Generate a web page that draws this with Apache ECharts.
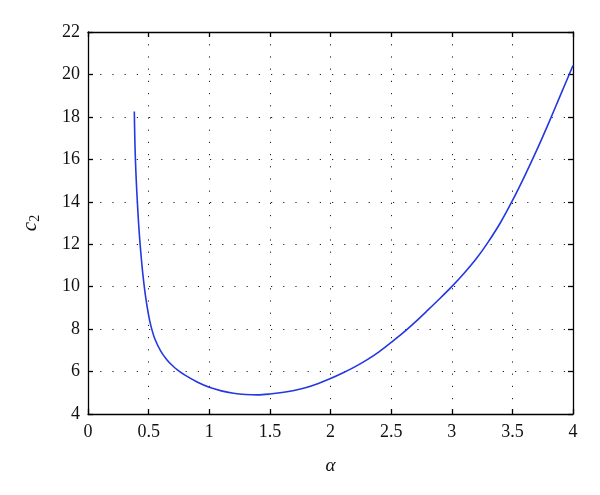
<!DOCTYPE html>
<html>
<head>
<meta charset="utf-8">
<script src="https://cdn.jsdelivr.net/npm/echarts@6/dist/echarts.min.js"></script>
<style>html,body{margin:0;padding:0;background:#fff}#c{width:600px;height:495px}</style>
</head>
<body>
<div id="c"></div>
<script>
var alphaValues = [0.382, 0.386, 0.391, 0.398, 0.407, 0.417, 0.429, 0.441, 0.455, 0.475, 0.5, 0.522, 0.55, 0.6, 0.65, 0.7, 0.74, 0.8, 0.9, 1.0, 1.1, 1.2, 1.3, 1.4, 1.5, 1.6, 1.7, 1.8, 1.9, 2.0, 2.1, 2.2, 2.3, 2.4, 2.5, 2.6, 2.7, 2.8, 2.9, 3.0, 3.1, 3.2, 3.3, 3.4, 3.5, 3.6, 3.7, 3.8, 3.9, 4.0];
var c2Values = [18.25, 17.0, 16.0, 15.0, 14.0, 13.0, 12.05, 11.25, 10.45, 9.53, 8.65, 8.08, 7.56, 6.96, 6.56, 6.26, 6.07, 5.83, 5.51, 5.26, 5.09, 4.98, 4.92, 4.9, 4.94, 5.01, 5.11, 5.25, 5.44, 5.67, 5.93, 6.22, 6.55, 6.93, 7.37, 7.83, 8.34, 8.88, 9.43, 10.0, 10.62, 11.3, 12.1, 13.0, 14.05, 15.2, 16.42, 17.72, 19.07, 20.42];
var xTicks = [0, 0.5, 1, 1.5, 2, 2.5, 3, 3.5, 4];
var yTicks = [4, 6, 8, 10, 12, 14, 16, 18, 20, 22];

var pts = alphaValues.map(function (a, i) { return [a, c2Values[i]]; });
var font = 'Liberation Serif';
var dotted = { color: '#222', width: 1, type: [1.2, 11] };
function baseAxis(extra) {
  var o = {
    type: 'value',
    axisLine: { show: true, onZero: false, lineStyle: { color: '#000', width: 1.3 } },
    axisTick: { show: true, inside: true, length: 5, lineStyle: { color: '#000', width: 1.3 } },
    splitLine: { show: false },
    axisLabel: { show: false }
  };
  for (var k in extra) o[k] = extra[k];
  return o;
}
var chart = echarts.init(document.getElementById('c'));
chart.setOption({
  animation: false,
  grid: { left: 88, right: 27, top: 32, bottom: 81 },
  xAxis: [
    baseAxis({ min: xTicks[0], max: xTicks[xTicks.length - 1], interval: 0.5, position: 'bottom',
      splitLine: { show: true, lineStyle: dotted },
      axisLabel: { show: true, color: '#111', fontFamily: font, fontSize: 18, margin: 9 },
      name: 'α', nameLocation: 'middle', nameGap: 42,
      nameTextStyle: { fontFamily: font, fontStyle: 'italic', fontSize: 19, color: '#111' } }),
    baseAxis({ min: xTicks[0], max: xTicks[xTicks.length - 1], interval: 0.5, position: 'top' })
  ],
  yAxis: [
    baseAxis({ min: yTicks[0], max: yTicks[yTicks.length - 1], interval: 2, position: 'left',
      splitLine: { show: true, lineStyle: dotted },
      axisLabel: { show: true, color: '#111', fontFamily: font, fontSize: 18, margin: 8 },
      name: '{c|c}{s|2}', nameLocation: 'middle', nameGap: 46, nameRotate: 90,
      nameTextStyle: { color: '#111', rich: {
        c: { fontFamily: font, fontStyle: 'italic', fontSize: 21, color: '#111' },
        s: { fontFamily: font, fontSize: 14, color: '#111', padding: [10, 0, 0, 0] }
      } } }),
    baseAxis({ min: yTicks[0], max: yTicks[yTicks.length - 1], interval: 2, position: 'right' })
  ],
  series: [{
    type: 'line',
    data: pts,
    smooth: 0.3,
    showSymbol: false,
    lineStyle: { color: '#2338e0', width: 1.6 },
    xAxisIndex: 0, yAxisIndex: 0
  }]
});
</script>
</body>
</html>
